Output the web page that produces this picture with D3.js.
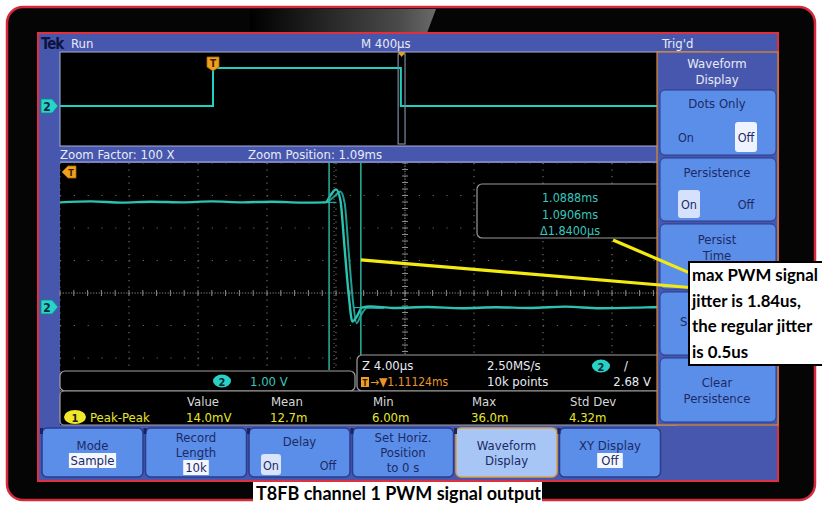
<!DOCTYPE html>
<html><head><meta charset="utf-8">
<script src="https://cdn.jsdelivr.net/npm/d3@7"></script>
<style>html,body{margin:0;padding:0;background:#fff;overflow:hidden}</style>
</head><body>
<svg id="c" width="822" height="511"></svg>
<script>
// ---------- data ----------
const overviewTimesMs = [-0.887, 0, 0, 1.089, 1.089, 3.113];
const overviewVolts   = [0, 0, 3.23, 3.23, 0, 0];

const traceATimesUs = [1073.2,1075.0,1076.8,1078.5,1080.3,1082.0,1083.8,1085.5,1087.2,1088.6,1088.9,1089.2,1089.45,1089.7,1089.95,1090.15,1090.4,1090.7,1091.2,1092.5,1094.5,1096.5,1098.5,1100.5,1102.5,1104.5,1106.5,1108.5,1110.5,1113.2];
const traceAVolts   = [3.22,3.25,3.21,3.24,3.22,3.25,3.22,3.24,3.21,3.22,3.45,3.62,3.3,1.8,0.3,-0.45,-0.3,-0.02,0.02,-0.03,0.0,-0.04,-0.01,-0.03,0.01,-0.04,-0.02,0.0,-0.03,-0.02];
const traceBTimesUs = [1088.7,1089.1,1089.45,1089.7,1089.95,1090.2,1090.4,1090.65,1091.0,1092.0];
const traceBVolts   = [3.22,3.4,3.55,3.2,1.6,0.1,-0.5,-0.25,-0.02,-0.03];

const cursorTimesUs = [1088.8, 1090.64];
const cursorReadouts = ["1.0888ms","1.0906ms","\u03941.8400\u00b5s"];
const annotationFrom = [[1090.64, 1.45],[1105.26, 2.06]];
const annotationTo   = [[1109.7, 0.6],[1109.7, 1.05]];

const measName = "Peak-Peak";
const measHeaders = ["Value","Mean","Min","Max","Std Dev"];
const measValues  = ["14.0mV","12.7m","6.00m","36.0m","4.32m"];

const bottomMenuLabels = [["Mode","Sample"],["Record","Length","10k"],["Delay"],["Set Horiz.","Position","to 0 s"],["Waveform","Display"],["XY Display","Off"]];
const sideMenuLabels = [["Dots Only"],["Persistence"],["Persist","Time"],["S"],["Clear","Persistence"]];
const annotationLines = ["max PWM signal","jitter is 1.84us,","the regular jitter","is 0.5us"];
const caption = "T8FB channel 1 PWM signal output";

// ---------- setup ----------
const svg = d3.select("#c");
const UI = "'DejaVu Sans Condensed','Liberation Sans Narrow','DejaVu Sans',sans-serif";
const BLUE = "#4757ad", BTN = "#5b8ee8", BTNDARK = "#2a3c8c", TXT = "#1b2a66";
const CYAN = "#2cc3b4";
const defs = svg.append("defs");
const sheen = defs.append("linearGradient").attr("id","sheen").attr("x1","0").attr("x2","1");
sheen.append("stop").attr("offset","0").attr("stop-color","#000");
sheen.append("stop").attr("offset","0.8").attr("stop-color","#4a4a4a");
sheen.append("stop").attr("offset","1").attr("stop-color","#6a6a6a");

// device
svg.append("rect").attr("x",7).attr("y",7).attr("width",808).attr("height",493).attr("rx",16)
  .attr("fill","#050505").attr("stroke","#d62a3c").attr("stroke-width",2.5);
svg.append("path").attr("d","M250,9 L436,9 L427,33 L250,33 Z").attr("fill","url(#sheen)");

// screen
svg.append("rect").attr("x",38).attr("y",33).attr("width",740).attr("height",448)
  .attr("fill",BLUE).attr("stroke","#e0303e").attr("stroke-width",2);

function txt(g, x, y, s, o={}) {
  return g.append("text").attr("x",x).attr("y",y).text(s)
    .attr("font-family",o.ff||UI).attr("font-size",o.fs||13).attr("fill",o.fill||"#e8ebf6")
    .attr("text-anchor",o.anchor||"start").attr("font-weight",o.fw||"normal")
    .attr("font-stretch","condensed");
}

// status bar
txt(svg,41,49,"Tek",{fs:15,fill:"#0e1440",fw:"bold"}).attr("letter-spacing","-1");
txt(svg,71,48,"Run",{fs:13});
txt(svg,361,48,"M 400\u00b5s",{fs:13});
txt(svg,662,48,"Trig'd",{fs:13});

// ---------- overview ----------
const xOv = d3.scaleLinear().domain([-0.887, 3.113]).range([60, 750]);
const yOv = d3.scaleLinear().domain([4.6, -3.4]).range([52, 146]);
svg.append("rect").attr("x",60).attr("y",52).attr("width",650).attr("height",94)
  .attr("fill","#000").attr("stroke","#a9b1d8").attr("stroke-width",1);
const ovData = overviewTimesMs.map((t,i)=>[t, overviewVolts[i]]);
svg.append("path").datum(ovData).attr("fill","none").attr("stroke","#22d0c2").attr("stroke-width",2)
  .attr("d", d3.line().x(d=>xOv(d[0])).y(d=>yOv(d[1])));
// zoom window box
const zc = 1.0932, zw = 0.040;
svg.append("rect").attr("x",xOv(zc-zw/2)).attr("y",54).attr("width",xOv(zc+zw/2)-xOv(zc-zw/2)).attr("height",90)
  .attr("fill","none").attr("stroke","#7f8aa0").attr("stroke-width",1.2);
svg.append("path").attr("d",`M${xOv(zc)-4},52 L${xOv(zc)+4},52 L${xOv(zc)},57 Z`).attr("fill","#e0a030");
// trigger marker
const tx = xOv(0);
svg.append("path").attr("d",`M${tx-6},57 h12 v10 l-6,4 l-6,-4 Z`).attr("fill","#f0a020").attr("stroke","#b06a00").attr("stroke-width",0.8);
txt(svg,tx,67,"T",{fs:10,fill:"#3a2000",anchor:"middle",fw:"bold"});

// ground marker helper
function chMarker(y){
  svg.append("path").attr("d",`M41,${y-7} h11 l6,7 l-6,7 h-11 Z`).attr("fill","#28d5c8").attr("stroke","#0a8a80").attr("stroke-width",0.8);
  txt(svg,47,y+5,"2",{fs:12,fill:"#0a2a40",anchor:"middle",fw:"bold"});
}
chMarker(yOv(0));

// zoom bar
svg.append("line").attr("x1",60).attr("x2",657).attr("y1",162).attr("y2",162).attr("stroke","#a9b1d8");
txt(svg,60,159,"Zoom Factor: 100 X",{fs:13});
txt(svg,248,159,"Zoom Position: 1.09ms",{fs:13});

// ---------- main plot ----------
const xM = d3.scaleLinear().domain([1073.2, 1113.2]).range([60, 750]);
const yM = d3.scaleLinear().domain([4.43, -3.57]).range([163, 423]);
svg.append("rect").attr("x",60).attr("y",163).attr("width",650).attr("height",262).attr("fill","#000");
const grid = svg.append("g");
const divX = 69, divY = 32.5;
for (let i=0;i<=10;i++){
  const x = 60+i*divX;
  grid.append("line").attr("x1",x).attr("x2",x).attr("y1",163).attr("y2",423)
    .attr("stroke", i===5?"#8a8a8a":"#6a6a6a").attr("stroke-width",1.2)
    .attr("stroke-dasharray", i===5?"1.2,1.4":"1.2,5.3");
}
for (let j=0;j<=8;j++){
  const y = 163+j*divY;
  grid.append("line").attr("x1",60).attr("x2",750).attr("y1",y).attr("y2",y)
    .attr("stroke", j===4?"#8a8a8a":"#6a6a6a").attr("stroke-width",1.2)
    .attr("stroke-dasharray", j===4?"1.2,1.56":"1.2,12.6");
}
// centre ticks
for (let k=0;k<=50;k++){
  const x = 60+k*divX/5;
  grid.append("line").attr("x1",x).attr("x2",x).attr("y1",163+4*divY-3).attr("y2",163+4*divY+3).attr("stroke","#8a8a8a");
}
for (let k=0;k<=40;k++){
  const y = 163+k*divY/5;
  grid.append("line").attr("x1",60+5*divX-3).attr("x2",60+5*divX+3).attr("y1",y).attr("y2",y).attr("stroke","#8a8a8a");
}
// traces
const line = d3.line().x(d=>xM(d[0])).y(d=>yM(d[1])).curve(d3.curveMonotoneX);
const trB = traceBTimesUs.map((t,i)=>[t, traceBVolts[i]]);
const trA = traceATimesUs.map((t,i)=>[t, traceAVolts[i]]);
svg.append("path").datum(trB).attr("fill","none").attr("stroke","#1f9e92").attr("stroke-width",2).attr("d",line);
svg.append("path").datum(trA).attr("fill","none").attr("stroke",CYAN).attr("stroke-width",2.4).attr("d",line);
// cursors
cursorTimesUs.forEach((t,i)=>{
  svg.append("line").attr("x1",xM(t)).attr("x2",xM(t)).attr("y1",163).attr("y2",370)
    .attr("stroke","#25a898").attr("stroke-width",1.6);
});
svg.append("line").attr("x1",xM(cursorTimesUs[0])+5).attr("x2",xM(cursorTimesUs[0])+5).attr("y1",163).attr("y2",370)
  .attr("stroke","#6a6a6a").attr("stroke-dasharray","1,3");
[[cursorTimesUs[0],3.22],[cursorTimesUs[1],-0.02]].forEach(d=>{
  svg.append("line").attr("x1",xM(d[0])-7).attr("x2",xM(d[0])+7).attr("y1",yM(d[1])).attr("y2",yM(d[1]))
    .attr("stroke","#2cc3b4").attr("stroke-width",1);
});
// trigger-out marker (left)
svg.append("path").attr("d","M62,172 l6,-6 h8 v12 h-8 Z").attr("fill","#f0a020").attr("stroke","#b06a00").attr("stroke-width",0.8);
txt(svg,71,176,"T",{fs:9,fill:"#3a2000",anchor:"middle",fw:"bold"});
chMarker(yM(0));

// cursor readout box
svg.append("rect").attr("x",477).attr("y",184).attr("width",200).attr("height",54).attr("rx",5)
  .attr("fill","#000").attr("stroke","#9a9a9a").attr("stroke-width",1.2);
cursorReadouts.forEach((s,i)=> txt(svg,570,202+i*16.5,s,{fs:12.5,fill:"#38c6bd",anchor:"middle"}));

// readout boxes
svg.append("rect").attr("x",60).attr("y",371).attr("width",295).attr("height",20).attr("rx",5)
  .attr("fill","#000").attr("stroke","#a0a0a0").attr("stroke-width",1.2);
svg.append("ellipse").attr("cx",222).attr("cy",381).attr("rx",9).attr("ry",6.5).attr("fill","#2ad0c6");
txt(svg,222,385.5,"2",{fs:11,fill:"#062a33",anchor:"middle",fw:"bold"});
txt(svg,250,386,"1.00 V",{fs:13,fill:"#38c6bd"});

svg.append("rect").attr("x",357).attr("y",355).attr("width",320).attr("height",36).attr("rx",5)
  .attr("fill","#000").attr("stroke","#a0a0a0").attr("stroke-width",1.2);
txt(svg,362,370,"Z 4.00\u00b5s",{fs:13});
txt(svg,487,370,"2.50MS/s",{fs:13});
svg.append("ellipse").attr("cx",601).attr("cy",366).attr("rx",9).attr("ry",6.5).attr("fill","#2ad0c6");
txt(svg,601,370.5,"2",{fs:11,fill:"#062a33",anchor:"middle",fw:"bold"});
txt(svg,624,370,"/",{fs:13});
svg.append("rect").attr("x",361).attr("y",377).attr("width",8).attr("height",10).attr("fill","#f0a020");
txt(svg,365,385.5,"T",{fs:8,fill:"#3a2000",anchor:"middle",fw:"bold"});
txt(svg,370,386,"\u2192\u25bc1.11124ms",{fs:12,fill:"#e8962c"});
txt(svg,487,386,"10k points",{fs:13});
txt(svg,651,386,"2.68 V",{fs:13,anchor:"end"});

// measurement area
svg.append("rect").attr("x",60).attr("y",391).attr("width",620).attr("height",34).attr("rx",4)
  .attr("fill","#000").attr("stroke","#a0a0a0").attr("stroke-width",1.2);
const colX = [187,271,373,472,570];
measHeaders.forEach((h,i)=> txt(svg,colX[i],406,h,{fs:13,fill:"#d8d8d8"}));
measValues.forEach((v,i)=> txt(svg,colX[i]-1,422,v,{fs:13,fill:"#e6e62a"}));
svg.append("ellipse").attr("cx",75).attr("cy",417).attr("rx",11).attr("ry",7).attr("fill","#f2e82a");
txt(svg,75,421.5,"1",{fs:11,fill:"#222",anchor:"middle",fw:"bold"});
txt(svg,90,422,measName,{fs:13,fill:"#e6e62a"});

// ---------- side menu ----------
svg.append("rect").attr("x",657).attr("y",52).attr("width",121).attr("height",373)
  .attr("fill",BLUE).attr("stroke","#e08a28").attr("stroke-width",1.2);
txt(svg,717,68,"Waveform",{fs:13,anchor:"middle"});
txt(svg,717,84,"Display",{fs:13,anchor:"middle"});
const sideY = [[90,155],[158,221],[224,289],[292,355],[358,422]];
sideY.forEach((r,i)=>{
  svg.append("rect").attr("x",660).attr("y",r[0]).attr("width",116).attr("height",r[1]-r[0]).attr("rx",5)
    .attr("fill",BTN).attr("stroke",BTNDARK).attr("stroke-width",1);
});
const sideTextY = [[108],[177],[244,260],[326],[387,403]];
sideMenuLabels.forEach((ls,i)=> ls.forEach((s,j)=>{
  if (i===3) txt(svg,680,sideTextY[i][j],s,{fs:13,fill:TXT});
  else txt(svg,717,sideTextY[i][j],s,{fs:13,fill:TXT,anchor:"middle"});
}));
// toggles
svg.append("rect").attr("x",735).attr("y",122).attr("width",22).attr("height",30).attr("rx",3).attr("fill","#eef3ff");
txt(svg,686,142,"On",{fs:12.5,fill:TXT,anchor:"middle"});
txt(svg,746,142,"Off",{fs:12.5,fill:TXT,anchor:"middle"});
svg.append("rect").attr("x",678).attr("y",190).attr("width",22).attr("height",28).attr("rx",3).attr("fill","#d6e2fb");
txt(svg,689,209,"On",{fs:12.5,fill:TXT,anchor:"middle"});
txt(svg,746,209,"Off",{fs:12.5,fill:TXT,anchor:"middle"});

// ---------- bottom menu ----------
const bw = 101, bx0 = 42, bstep = 103.5;
bottomMenuLabels.forEach((ls,i)=>{
  const x = bx0 + i*bstep, sel = i===4;
  svg.append("rect").attr("x",x).attr("y",428).attr("width",bw).attr("height",49).attr("rx",5)
    .attr("fill", sel?"#a7c6f6":BTN).attr("stroke", sel?"#e0a040":BTNDARK).attr("stroke-width",1.5);
  svg.append("rect").attr("x",x-2).attr("y",428).attr("width",3).attr("height",6).attr("fill","#1a2460");
  const cx = x + bw/2;
  const ys = ls.length===3 ? [442,457,472] : ls.length===2 ? [450,465] : [446];
  ls.forEach((s,j)=>{
    if ((i===0 && j===1) || (i===1 && j===2) || (i===5 && j===1)) {
      const w = s.length*7.2+4;
      svg.append("rect").attr("x",cx-w/2).attr("y",ys[j]-12).attr("width",w).attr("height",15).attr("fill","#f4f7ff");
    }
    txt(svg,cx,ys[j],s,{fs:13,fill:TXT,anchor:"middle"});
  });
});
// delay toggle
svg.append("rect").attr("x",261).attr("y",454).attr("width",20).attr("height",21).attr("rx",3).attr("fill","#dae5fb");
txt(svg,271,470,"On",{fs:12.5,fill:TXT,anchor:"middle"});
txt(svg,328,470,"Off",{fs:12.5,fill:TXT,anchor:"middle"});

// ---------- annotation ----------
annotationFrom.forEach((p,i)=>{
  const q = annotationTo[i];
  svg.append("line").attr("x1",xM(p[0])).attr("y1",yM(p[1])).attr("x2",xM(q[0])).attr("y2",yM(q[1]))
    .attr("stroke","#f4ea10").attr("stroke-width",3.2);
});
svg.append("rect").attr("x",689).attr("y",262).attr("width",140).attr("height",103)
  .attr("fill","#fff").attr("stroke","#000").attr("stroke-width",2);
annotationLines.forEach((s,i)=> txt(svg,692,281+i*25.5,s,{ff:"Lato,'Open Sans',sans-serif",fs:16.8,fill:"#000",fw:"bold"}).attr("font-stretch","normal"));

// caption
svg.append("rect").attr("x",253).attr("y",482).attr("width",289).attr("height",29).attr("fill","#fff");
txt(svg,256,500,caption,{ff:"Lato,'Open Sans',sans-serif",fs:18,fill:"#000",fw:"bold"}).attr("font-stretch","normal");
</script>
</body></html>
